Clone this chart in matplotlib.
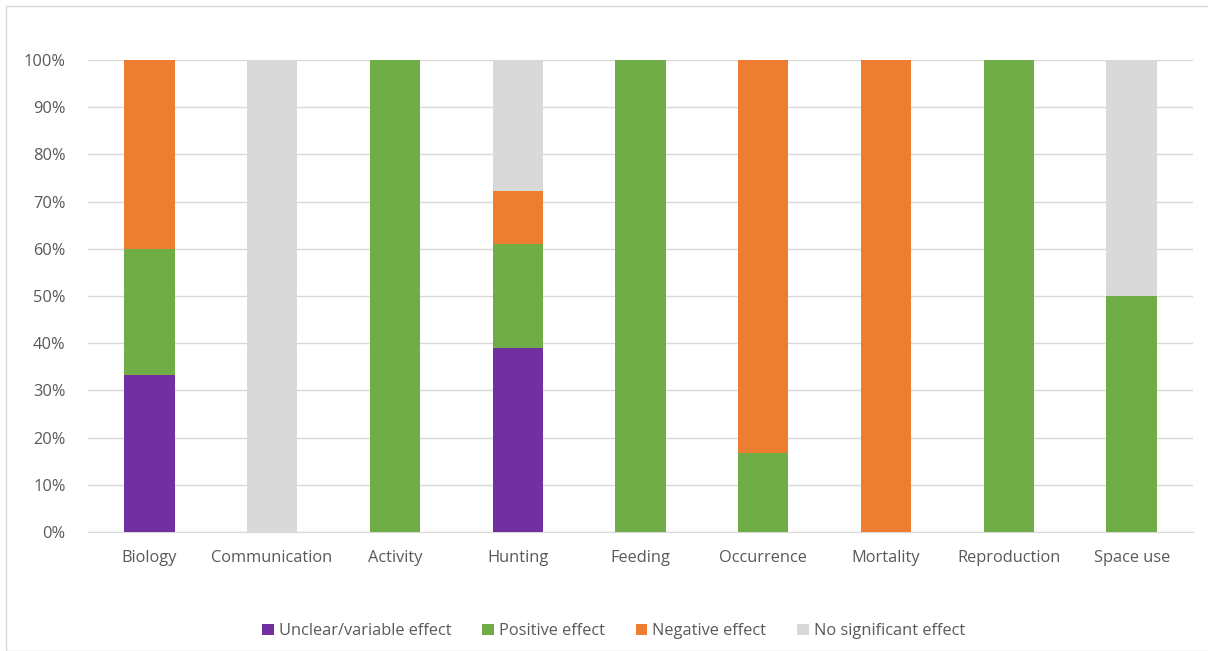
import matplotlib.pyplot as plt
import matplotlib.patches as patches
import numpy as np

categories = ["Biology", "Communication", "Activity", "Hunting", "Feeding",
              "Occurrence", "Mortality", "Reproduction", "Space use"]
unclear = [33.3, 0, 0, 38.9, 0, 0, 0, 0, 0]
positive = [26.7, 0, 100, 22.2, 100, 16.7, 0, 100, 50]
negative = [40.0, 0, 0, 11.1, 0, 83.3, 100, 0, 0]
no_effect = [0, 100, 0, 27.8, 0, 0, 0, 0, 50]

series = [
    ("Unclear/variable effect", unclear, "#7030a0"),
    ("Positive effect", positive, "#70ad47"),
    ("Negative effect", negative, "#ed7d31"),
    ("No significant effect", no_effect, "#d9d9d9"),
]

plt.rcParams['font.family'] = ['Open Sans', 'DejaVu Sans']

fig = plt.figure(figsize=(12.08, 6.51), dpi=100)
ax = fig.add_axes([0.0728, 0.1828, 0.9148, 0.725])

x = np.arange(len(categories))
bottom = np.zeros(len(categories))
for label, vals, color in series:
    vals = np.array(vals)
    ax.bar(x, vals, width=0.41, bottom=bottom, color=color, label=label, zorder=3)
    bottom += vals

ax.set_xlim(-0.5, len(categories) - 0.5)
ax.set_ylim(0, 100)
ax.set_yticks(np.arange(0, 101, 10))
ax.set_yticklabels([f"{v}%" for v in range(0, 101, 10)])
ax.set_xticks(x)
ax.set_xticklabels(categories)
ax.tick_params(axis="both", length=0, labelsize=11.8, colors="#595959")
ax.tick_params(axis="x", pad=13)
ax.tick_params(axis="y", pad=16)
ax.grid(axis="y", color="#d9d9d9", linewidth=1, zorder=0)
for s in ["top", "right", "left"]:
    ax.spines[s].set_visible(False)
ax.spines["bottom"].set_color("#d9d9d9")

fig.legend(loc="center", bbox_to_anchor=(0.508, 0.03), ncol=4, frameon=False,
           fontsize=11.8, handlelength=0.7, handleheight=0.7, handletextpad=0.3,
           columnspacing=1.9, labelcolor="#595959")

fig.patches.append(patches.Rectangle((6 / 1208, 0), 1.0, 1 - 6 / 651,
                                     transform=fig.transFigure, fill=False,
                                     edgecolor="#d9d9d9", linewidth=1))

fig.savefig("out.png", dpi=100)
